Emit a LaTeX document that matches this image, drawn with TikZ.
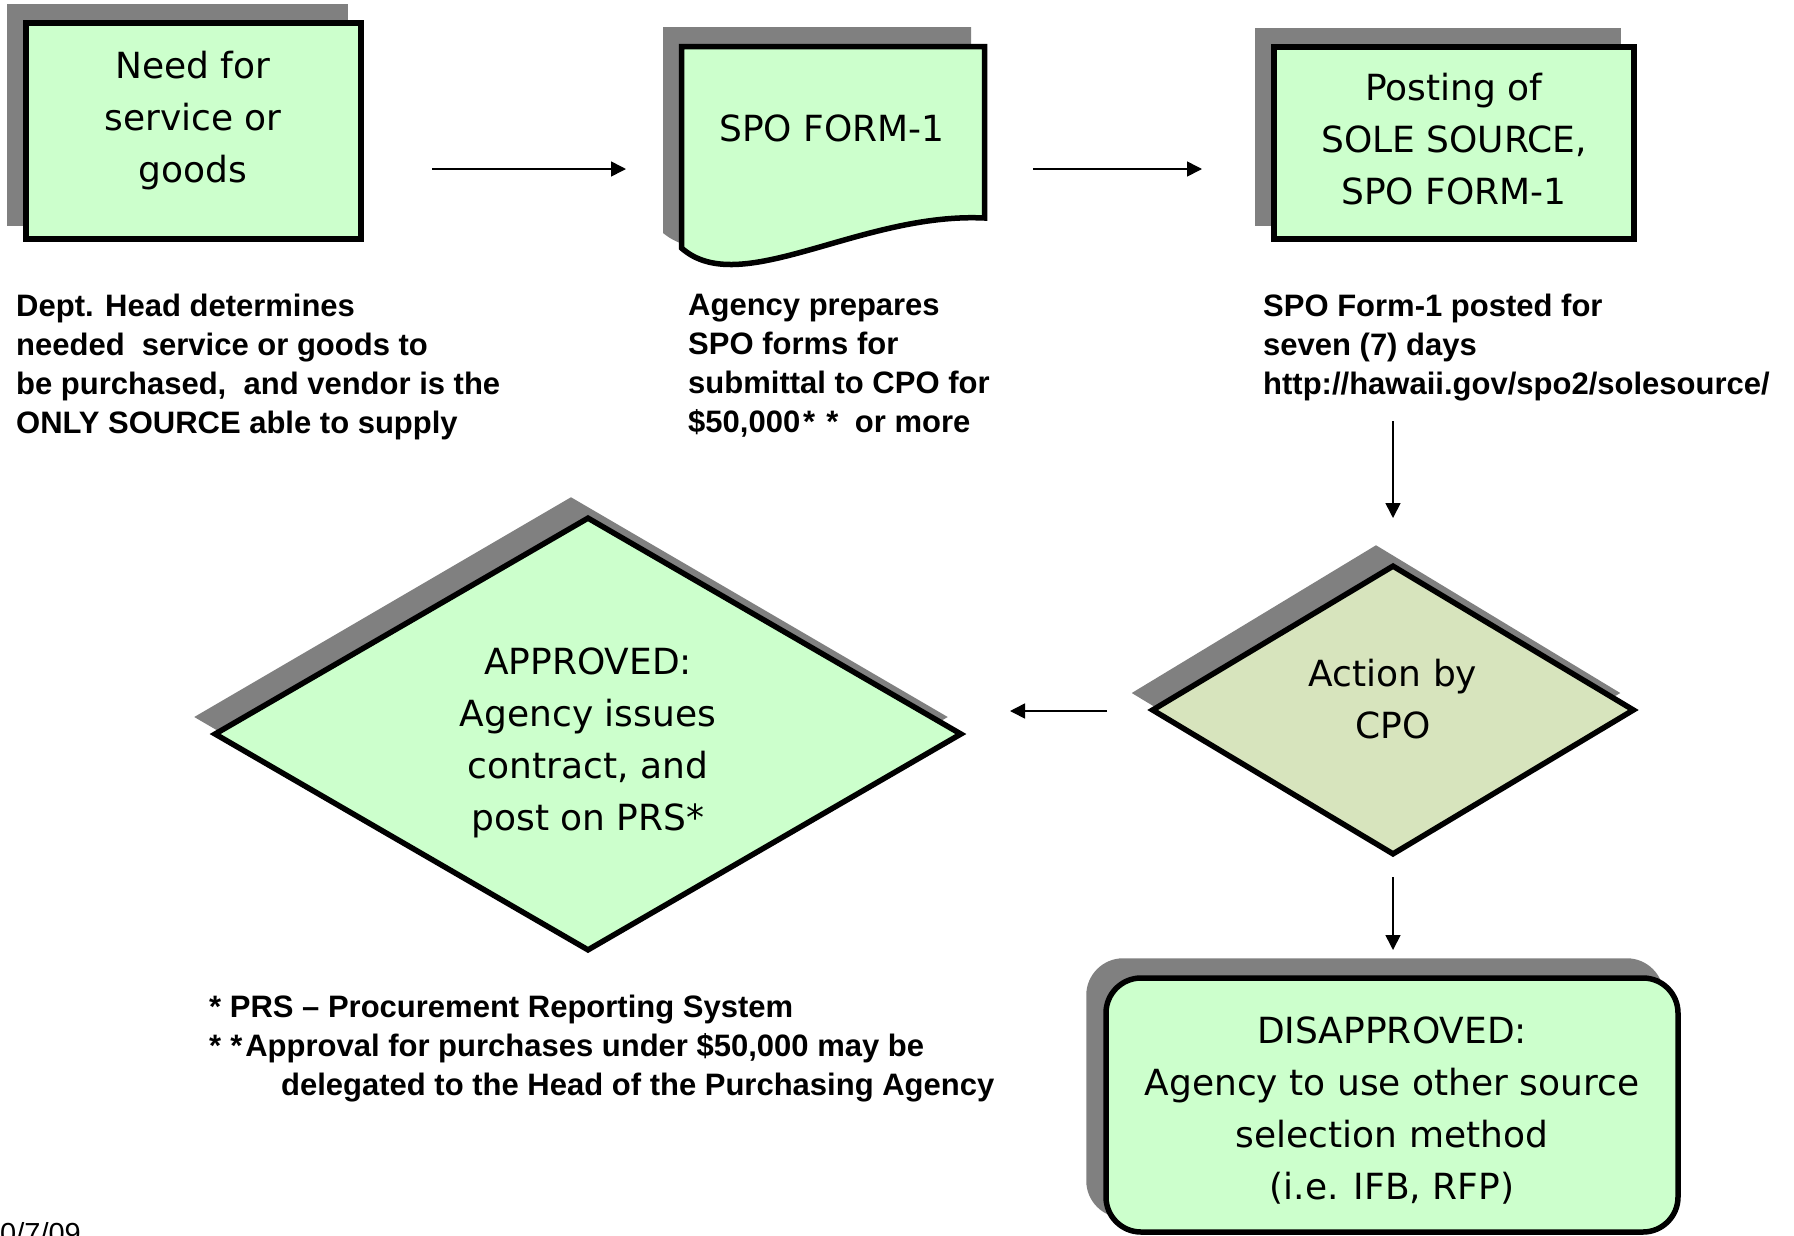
\documentclass[tikz,border=0pt]{standalone}
\usepackage{fontspec}
\setmainfont{Liberation Sans}
\newfontfamily\boxfont{DejaVu Sans}
\usetikzlibrary{shapes.geometric,arrows.meta}
\pgfdeclarelayer{background}
\pgfsetlayers{background,main}
\definecolor{boxgreen}{HTML}{CCFFCC}
\definecolor{cpofill}{HTML}{D7E4BD}
\definecolor{shgray}{HTML}{808080}
\begin{document}
\begin{tikzpicture}[x=1pt,y=-1pt,
  shapeline/.style={draw=black, line width=5.5pt, fill=boxgreen},
  boxtext/.style={font=\boxfont\fontsize{36}{52}\selectfont, align=center, inner sep=0pt},
  desc/.style={font=\bfseries\fontsize{31}{39}\selectfont, align=left, anchor=north west, inner sep=0pt},
  arr/.style={line width=1.6pt, -{Triangle[length=15pt,width=15pt]}},
  shadowfill/.style={fill=shgray}]
\useasboundingbox (0,0) rectangle (1794,1235);

% boxes
\node[shapeline, minimum width=335, minimum height=216, inner sep=0pt] (need) at (193.5,131) {};
\node[boxtext] (needtxt) at (193,121) {Need for\\service or\\goods};

\draw[shapeline] (681.5,46.5) -- (984.5,46.5) -- (984.5,218)
  .. controls (860,212) and (740,300) .. (681.5,248) -- cycle;
\node[boxtext] (form) at (832,128) {SPO FORM-1};

\node[shapeline, minimum width=360, minimum height=192, inner sep=0pt] (post) at (1454,143) {};
\node[boxtext] (posttxt) at (1454,139.5) {Posting of\\SOLE SOURCE,\\SPO FORM-1};

% descriptions
\node[desc] (d1) at (16,294) {Dept. Head determines\\needed\ \ service or goods to\\be purchased,\ \ and vendor is the\\ONLY SOURCE able to supply};
\node[desc] (d2) at (688,294) {Agency prepares\\SPO forms for\\submittal to CPO for\\\$50,000\kern3pt*\kern11pt*\kern8pt{} or more};
\node[desc] (d3) at (1263,294) {SPO Form-1 posted for\\seven (7) days\\http://hawaii.gov/spo2/solesource/};

% diamonds
\node[diamond, shapeline, minimum width=748, minimum height=434, inner sep=0pt, aspect=1.72] (appr) at (588,734) {};
\node[boxtext] (apprtxt) at (588,743) {APPROVED:\\Agency issues\\contract, and\\post on PRS*};
\node[diamond, shapeline, fill=cpofill, minimum width=483, minimum height=290, inner sep=0pt, aspect=1.66] (cpo) at (1393,710) {};
\node[boxtext] (cpotxt) at (1393,699) {Action by\\CPO};

% rounded box
\node[shapeline, rounded corners=35pt, minimum width=572, minimum height=254, inner sep=0pt] (dis) at (1392,1105) {};
\node[boxtext] (distxt) at (1392,1110) {DISAPPROVED:\\Agency to use other source\\selection method\\(i.e. IFB, RFP)};

% footnotes
\node[desc] (fn) at (209,995) {* PRS -- Procurement Reporting System\\*\kern9pt*\kern3pt Approval for purchases under \$50,000 may be\\\hspace*{72pt}delegated to the Head of the Purchasing Agency};

\node[anchor=north west, inner sep=0pt, font=\fontsize{29}{35}\selectfont] (date) at (0,1222) {0/7/09};

% arrows
\coordinate (a1s) at (432,169); \coordinate (a1e) at (626,169);
\coordinate (a2s) at (1033,169); \coordinate (a2e) at (1202,169);
\coordinate (a3s) at (1393,421); \coordinate (a3e) at (1393,518);
\coordinate (a4s) at (1107,711); \coordinate (a4e) at (1010,711);
\coordinate (a5s) at (1393,877); \coordinate (a5e) at (1393,950);
\draw[arr] (a1s) -- (a1e);
\draw[arr] (a2s) -- (a2e);
\draw[arr] (a3s) -- (a3e);
\draw[arr] (a4s) -- (a4e);
\draw[arr] (a5s) -- (a5e);

% shadows
\begin{pgfonlayer}{background}
\fill[white] (0,0) rectangle (1794,1235);
\fill[shadowfill] ([shift={(-16,-16)}]need.north west) rectangle ([shift={(-16,-16)}]need.south east);
\fill[shadowfill] ([shift={(-16,-16)}]post.north west) rectangle ([shift={(-16,-16)}]post.south east);
\fill[shadowfill, shift={(-16,-17)}] (679,44) -- (987,44) -- (987,216)
  .. controls (860,210) and (740,300) .. (679,250) -- cycle;
\fill[shadowfill] ([shift={(-17,-17)}]appr.north) -- ([shift={(-17,-17)}]appr.east) -- ([shift={(-17,-17)}]appr.south) -- ([shift={(-17,-17)}]appr.west) -- cycle;
\fill[shadowfill] ([shift={(-17,-17)}]cpo.north) -- ([shift={(-17,-17)}]cpo.east) -- ([shift={(-17,-17)}]cpo.south) -- ([shift={(-17,-17)}]cpo.west) -- cycle;
\fill[shadowfill, rounded corners=37pt] ([shift={(-17,-17)}]dis.north west) rectangle ([shift={(-17,-17)}]dis.south east);
\end{pgfonlayer}
\end{tikzpicture}
\end{document}
